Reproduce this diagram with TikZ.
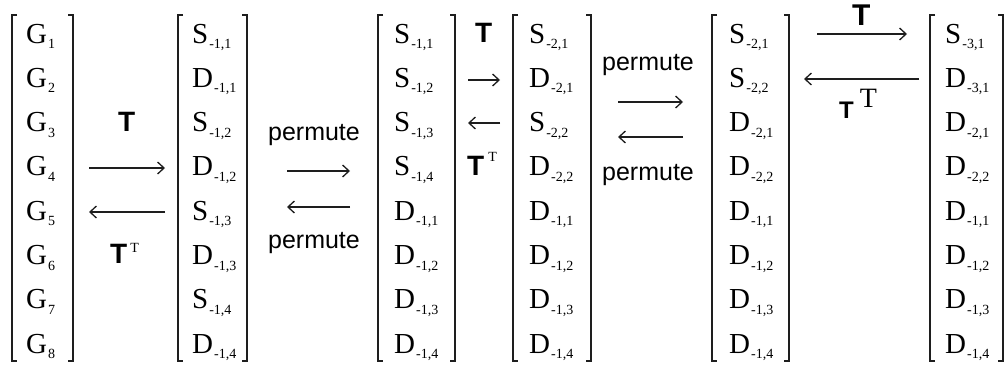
\documentclass[tikz,border=0pt]{standalone}
\usepackage{fontspec}
\setmainfont{Liberation Serif}
\newfontfamily\armfont{Liberation Sans}
\usetikzlibrary{arrows.meta}
\definecolor{ink}{HTML}{1E1E1E}
\newcommand\sbx[1]{\raisebox{-5.5pt}{\fontsize{14}{14}\selectfont\kern1pt #1}}
\newcommand\supT[2]{\raisebox{#2}{\rmfamily\mdseries\fontsize{#1}{#1}\selectfont T}}

\begin{document}
\begin{tikzpicture}[
  x=1pt, y=-1pt,
  entry/.style={anchor=base west, inner sep=0pt, font=\fontsize{29}{29}\selectfont},
  brk/.style={ink, line width=1.4pt},
  maplabel/.style={anchor=base, inner sep=0pt, font=\armfont\fontsize{25}{25}\selectfont},
  tlabel/.style={anchor=base west, inner sep=0pt, font=\armfont\bfseries\fontsize{28}{28}\selectfont},
  fwd/.style={-{Straight Barb[length=6.5pt,width=12pt]}, ink, line width=1.3pt}
]
  \useasboundingbox (0,0) rectangle (1006,370);

  % brackets
  \foreach \xl/\xr in {12/73, 178/247, 378/455, 513/591, 712/789, 930/1003} {
    \draw[brk] ({\xl+5},15) -- (\xl,15) -- (\xl,361) -- ({\xl+5},361);
    \draw[brk] ({\xr-5},15) -- (\xr,15) -- (\xr,361) -- ({\xr-5},361);
  }

  % columns
  \foreach \s [count=\i] in {1,...,8}
    \node[entry] (c1r\i) at (26,{43+44.3*(\i-1)}) {G\sbx{\s}};
  \foreach \l/\s [count=\i] in {S/{-1,1},D/{-1,1},S/{-1,2},D/{-1,2},S/{-1,3},D/{-1,3},S/{-1,4},D/{-1,4}}
    \node[entry] (c2r\i) at (192,{43+44.3*(\i-1)}) {\l\sbx{\s}};
  \foreach \l/\s [count=\i] in {S/{-1,1},S/{-1,2},S/{-1,3},S/{-1,4},D/{-1,1},D/{-1,2},D/{-1,3},D/{-1,4}}
    \node[entry] (c3r\i) at (394,{43+44.3*(\i-1)}) {\l\sbx{\s}};
  \foreach \l/\s [count=\i] in {S/{-2,1},D/{-2,1},S/{-2,2},D/{-2,2},D/{-1,1},D/{-1,2},D/{-1,3},D/{-1,4}}
    \node[entry] (c4r\i) at (529,{43+44.3*(\i-1)}) {\l\sbx{\s}};
  \foreach \l/\s [count=\i] in {S/{-2,1},S/{-2,2},D/{-2,1},D/{-2,2},D/{-1,1},D/{-1,2},D/{-1,3},D/{-1,4}}
    \node[entry] (c5r\i) at (729,{43+44.3*(\i-1)}) {\l\sbx{\s}};
  \foreach \l/\s [count=\i] in {S/{-3,1},D/{-3,1},D/{-2,1},D/{-2,2},D/{-1,1},D/{-1,2},D/{-1,3},D/{-1,4}}
    \node[entry] (c6r\i) at (945,{43+44.3*(\i-1)}) {\l\sbx{\s}};

  % T between 1 and 2
  \node[tlabel] (t1) at (118,131) {T};
  \node[tlabel] (t1b) at (110,263) {T\kern3pt\supT{14}{11pt}};
  \coordinate (a1r0) at (89,168);  \coordinate (a1r1) at (165,168);
  \coordinate (a1l0) at (165,212); \coordinate (a1l1) at (89,212);
  \draw[fwd] (a1r0) -- (a1r1);
  \draw[fwd] (a1l0) -- (a1l1);

  % permute between 2 and 3
  \node[maplabel] (p2) at (314,140) {permute};
  \node[maplabel] (p2b) at (314,248) {permute};
  \coordinate (a2r0) at (287,171); \coordinate (a2r1) at (350,171);
  \coordinate (a2l0) at (350,207); \coordinate (a2l1) at (287,207);
  \draw[fwd] (a2r0) -- (a2r1);
  \draw[fwd] (a2l0) -- (a2l1);

  % T between 3 and 4
  \node[tlabel] (t3) at (475,42) {T};
  \node[tlabel] (t3b) at (467,175) {T\kern4pt\supT{14}{14pt}};
  \coordinate (a3r0) at (468,80);  \coordinate (a3r1) at (500,80);
  \coordinate (a3l0) at (500,123); \coordinate (a3l1) at (468,123);
  \draw[fwd] (a3r0) -- (a3r1);
  \draw[fwd] (a3l0) -- (a3l1);

  % permute between 4 and 5
  \node[maplabel] (p4) at (648,70) {permute};
  \node[maplabel] (p4b) at (648,180) {permute};
  \coordinate (a4r0) at (618,102); \coordinate (a4r1) at (683,102);
  \coordinate (a4l0) at (683,137); \coordinate (a4l1) at (618,137);
  \draw[fwd] (a4r0) -- (a4r1);
  \draw[fwd] (a4l0) -- (a4l1);

  % T between 5 and 6
  \node[tlabel, font=\armfont\bfseries\fontsize{30}{30}\selectfont] (t5) at (852,25) {T};
  \node[tlabel, font=\armfont\bfseries\fontsize{24}{24}\selectfont] (t5b) at (839,118) {T\kern6pt\supT{28}{11pt}};
  \coordinate (a5r0) at (817,34); \coordinate (a5r1) at (907,34);
  \coordinate (a5l0) at (919,79); \coordinate (a5l1) at (804,79);
  \draw[fwd] (a5r0) -- (a5r1);
  \draw[fwd] (a5l0) -- (a5l1);
\end{tikzpicture}
\end{document}
